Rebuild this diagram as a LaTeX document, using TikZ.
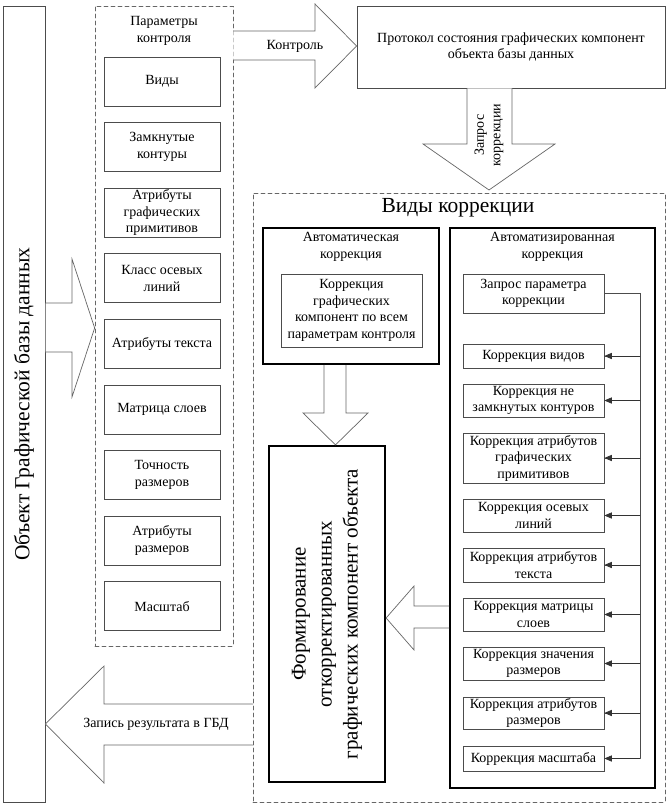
\documentclass[tikz,border=0pt]{standalone}
\usepackage{fontspec}
\setmainfont{Liberation Serif}
\usetikzlibrary{arrows}

\tikzset{
  every node/.style={align=center,font=\fontsize{14}{16.5}\selectfont},
  pbox/.style={draw=black!70,line width=0.7pt,minimum width=116pt,minimum height=49pt,inner sep=1pt},
  abox/.style={draw=black!70,line width=0.7pt,minimum width=141pt,inner sep=0.5pt},
  heavybox/.style={draw=black,line width=2.2pt},
  dbox/.style={draw=black!60,line width=0.7pt,dash pattern=on 4pt off 3pt},
  barrow/.style={draw=black!60,line width=0.7pt,fill=white,line join=miter},
  bigtext/.style={font=\fontsize{21.5}{26}\selectfont},
}

\begin{document}
\begin{tikzpicture}[x=1pt,y=-1pt,>=triangle 45,line cap=round]
\useasboundingbox (0,0) rectangle (667,805);
% object of the graphic database
\node[draw=black!70,line width=0.7pt,minimum width=42pt,minimum height=796pt] (obj) at (24,404) {};
\node[bigtext,rotate=90] (objt) at (obj.center) {Объект Графической базы данных};
% control parameters
\node[dbox,minimum width=138pt,minimum height=640pt] (par) at (164,326) {};
\node (part) at (164,31) {Параметры\\контроля};
\foreach \t [count=\i] in {Виды,{Замкнутые\\контуры},{Атрибуты\\графических\\примитивов},{Класс осевых\\линий},
  {Атрибуты текста},{Матрица слоев},{Точность\\размеров},{Атрибуты\\размеров},Масштаб}
  \node[pbox] (p\i) at (162,{81.5+65.6*(\i-1)}) {\t};
% protocol
\node[draw=black!70,line width=0.7pt,minimum width=308pt,minimum height=82pt] (prot) at (511,47)
  {Протокол состояния графических компонент\\объекта базы данных};
% kinds of correction
\node[dbox,minimum width=412pt,minimum height=609pt] (kor) at (459,497.5) {};
\node[bigtext] (kort) at (458,208) {Виды коррекции};
% automatic
\node[heavybox,minimum width=176pt,minimum height=136pt] (auto) at (351,296) {};
\node (autot) at (351,247) {Автоматическая\\коррекция};
\node[draw=black!70,line width=0.7pt,minimum width=141pt,minimum height=73pt,inner sep=0.5pt] (autoin) at (351.5,310.5)
  {Коррекция\\графических\\компонент по всем\\параметрам контроля};
% automated
\node[heavybox,minimum width=205pt,minimum height=560pt] (semi) at (552.5,508) {};
\node (semit) at (552.5,247) {Автоматизированная\\коррекция};
\node[abox,minimum height=39pt] (q0) at (533.5,293.5) {Запрос параметра\\коррекции};
\node[abox,minimum height=24pt] (q1) at (533.5,356) {Коррекция видов};
\node[abox,minimum height=33pt] (q2) at (533.5,400.5) {Коррекция не\\замкнутых контуров};
\node[abox,minimum height=50pt] (q3) at (533.5,458) {Коррекция атрибутов\\графических\\примитивов};
\node[abox,minimum height=33pt] (q4) at (533.5,515.5) {Коррекция осевых\\линий};
\node[abox,minimum height=34pt] (q5) at (533.5,565) {Коррекция атрибутов\\текста};
\node[abox,minimum height=33pt] (q6) at (533.5,614.5) {Коррекция матрицы\\слоев};
\node[abox,minimum height=33pt] (q7) at (533.5,663.5) {Коррекция значения\\размеров};
\node[abox,minimum height=32pt] (q8) at (533.5,713) {Коррекция атрибутов\\размеров};
\node[abox,minimum height=25pt] (q9) at (533.5,758.5) {Коррекция масштаба};
\coordinate (bus) at (640,293.5);
\draw[draw=black!70,line width=0.7pt] (q0.east) -- (bus) -- (bus |- q9.east);
\foreach \i in {1,...,9}
  \draw[->,draw=black!80,line width=0.7pt] (bus |- q\i.east) -- (q\i.east);
% forming
\node[heavybox,minimum width=116pt,minimum height=336pt] (form) at (327,614) {};
\node[rotate=90,font=\fontsize{21}{26}\selectfont] (formt) at (form.center)
  {Формирование\\откорректированных\\графических компонент объекта};
% block arrows
\draw[barrow] (obj.east |- 0,303) -- (72,303) -- (72,259) -- (par.west |- 0,328) -- (72,397) -- (72,352) -- (obj.east |- 0,352) -- cycle;
\draw[barrow] (par.east |- 0,31) -- (315,31) -- (315,4) -- (prot.west |- 0,46) -- (315,88) -- (315,60) -- (par.east |- 0,60);
\node (kontr) at (295,46) {Контроль};
\draw[barrow] (prot.south -| 467,0) -- (467,144) -- (423,144) -- (489,190) -- (555,144) -- (512,144) -- (prot.south -| 512,0);
\node[rotate=90] (zapr) at (489,135) {Запрос\\коррекции};
\draw[barrow] (auto.south -| 324,0) -- (324,413) -- (303,413) -- (form.north -| 335.5,0) -- (368,413) -- (346,413) -- (auto.south -| 346,0);
\draw[barrow] (semi.west |- 0,606) -- (414,606) -- (414,586) -- (form.east |- 0,618) -- (414,650) -- (414,628) -- (semi.west |- 0,628);
\draw[barrow] (kor.west |- 0,704) -- (104,704) -- (104,666) -- (obj.east |- 0,724) -- (104,783) -- (104,745) -- (kor.west |- 0,745);
\node[font=\fontsize{14}{16}\selectfont] (zap) at (156,724) {Запись результата в ГБД};
\end{tikzpicture}
\end{document}
